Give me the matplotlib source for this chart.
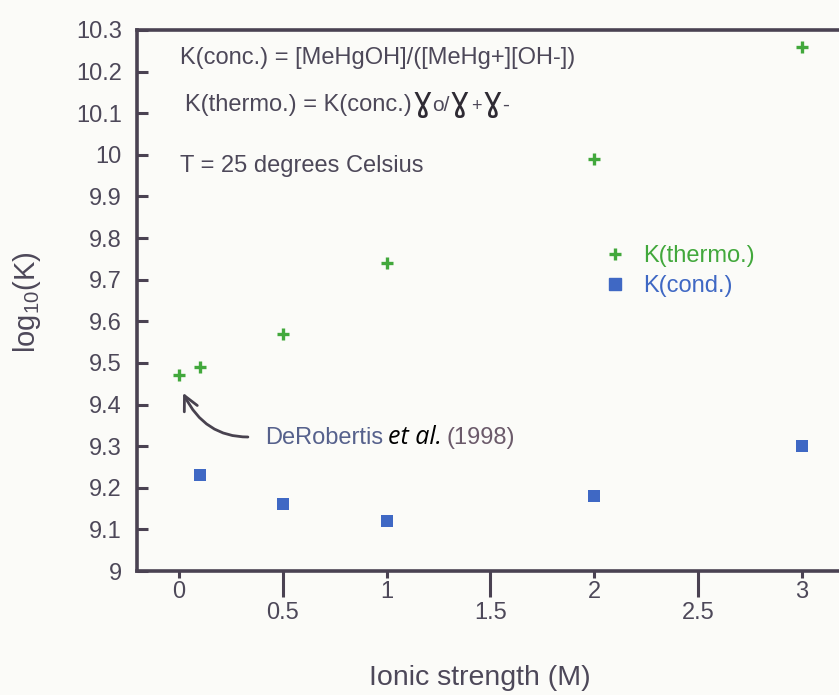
import matplotlib
matplotlib.use("Agg")
import matplotlib.pyplot as plt
from matplotlib.lines import Line2D

plt.rcParams['font.family'] = ['Liberation Sans', 'DejaVu Sans']
plt.rcParams['mathtext.fontset'] = 'custom'
plt.rcParams['mathtext.rm'] = 'Liberation Sans'
plt.rcParams['mathtext.it'] = 'Liberation Sans:italic'

# Data
thermo_x = [0.0, 0.1, 0.5, 1.0, 2.0, 3.0]
thermo_y = [9.47, 9.49, 9.57, 9.74, 9.99, 10.26]
cond_x = [0.1, 0.5, 1.0, 2.0, 3.0]
cond_y = [9.23, 9.16, 9.12, 9.18, 9.30]
yticks = [9.0, 9.1, 9.2, 9.3, 9.4, 9.5, 9.6, 9.7, 9.8, 9.9, 10.0, 10.1, 10.2, 10.3]
ytick_labels = ["9", "9.1", "9.2", "9.3", "9.4", "9.5", "9.6", "9.7", "9.8", "9.9", "10", "10.1", "10.2", "10.3"]
xticks_int = [0, 1, 2, 3]
xticks_half = [0.5, 1.5, 2.5]
series_labels = ["K(thermo.)", "K(cond.)"]

GREEN = '#42a83c'
BLUE = '#3f68c4'
TXT = '#4d4859'
SPINE = '#4a4252'
BG = '#fbfbf8'
FS = 17

fig = plt.figure(figsize=(8.39, 6.95), dpi=100, facecolor=BG)
W, H = 839, 695
left, right, top, bottom = 137, 839, 30, 571
ax = fig.add_axes([left / W, 1 - bottom / H, (right - left) / W, (bottom - top) / H])
ax.set_facecolor(BG)

ax.set_xlim(-0.202, 3.178)
ax.set_ylim(9.0, 10.3)

ax.scatter(thermo_x, thermo_y, marker='+', s=70, color=GREEN, linewidths=2.4, zorder=3)
ax.scatter(cond_x, cond_y, marker='s', s=70, color=BLUE, linewidths=0, zorder=3)

for s in ['left', 'bottom', 'top']:
    ax.spines[s].set_color(SPINE)
    ax.spines[s].set_linewidth(2.6)
ax.spines['right'].set_visible(False)

ax.set_yticks(yticks)
ax.set_yticklabels(ytick_labels)
ax.tick_params(axis='y', direction='in', length=8, width=2.2, color=SPINE,
               labelsize=FS, labelcolor=TXT, pad=11)
ax.set_xticks(xticks_int)
ax.set_xticklabels([str(v) for v in xticks_int])
ax.set_xticks(xticks_half, minor=True)
ax.set_xticklabels([str(v) for v in xticks_half], minor=True)
ax.tick_params(axis='x', which='major', direction='out', length=5, width=2.2, color=SPINE,
               labelsize=FS, labelcolor=TXT, pad=2.5)
ax.tick_params(axis='x', which='minor', direction='out', length=19, width=2.2, color=SPINE,
               labelsize=FS, labelcolor=TXT, pad=3.5)

fig.text(480 / W, 1 - 678 / H, "Ionic strength (M)", ha='center', va='center',
         fontsize=20.5, color=TXT)
fig.text(27 / W, 1 - 302 / H, r"log$_{10}$(K)", ha='center', va='center',
         rotation=90, fontsize=21, color=TXT)

tf = ax.transAxes
def fx(px):
    return (px - left) / (right - left)
def fy(py):
    return (bottom - py) / (bottom - top)

ax.text(fx(180), fy(58), "K(conc.) = [MeHgOH]/([MeHg+][OH-])", transform=tf,
        fontsize=FS, color=TXT, va='center', ha='left')
ax.text(fx(180), fy(166), "T = 25 degrees Celsius", transform=tf,
        fontsize=FS, color=TXT, va='center', ha='left')

fig.canvas.draw()
r = fig.canvas.get_renderer()

def chain(pieces, x0, yc):
    """Place text pieces one after another (display coords)."""
    x = x0
    for txt, kw, gap in pieces:
        t = fig.text(0, 0, txt, transform=None, va='baseline', ha='left', **kw)
        t.set_position((x, yc))
        fig.canvas.draw()
        x = t.get_window_extent(r).x1 + gap
    return x

GAM = dict(fontsize=24, color='#2e2a33', family='DejaVu Sans', fontweight='normal')
base2 = H - 111
chain([("K(thermo.) = K(conc.)", dict(fontsize=FS, color=TXT), 1),
       ("\u0263", GAM, 0),
       ("o/", dict(fontsize=FS - 2, color=TXT), 0),
       ("\u0263", GAM, 1),
       ("+", dict(fontsize=FS - 4, color=TXT), 1),
       ("\u0263", GAM, 0),
       ("-", dict(fontsize=FS - 2, color=TXT), 0)], 185, base2)

base3 = H - 444
chain([("DeRobertis", dict(fontsize=FS, color='#56618c'), 5),
       ("et al.", dict(fontsize=18, color='black', style='italic', fontweight='medium',
                       family='Open Sans'), 5),
       ("(1998)", dict(fontsize=FS, color='#6b5a6a'), 0)], 265, base3)

# Legend
handles = [Line2D([], [], marker='+', color=GREEN, linestyle='none', markersize=9, markeredgewidth=2.4),
           Line2D([], [], marker='s', color=BLUE, linestyle='none', markersize=8.5)]
leg = ax.legend(handles, series_labels, loc='upper left',
                bbox_to_anchor=(fx(582), fy(224)), frameon=False, fontsize=FS,
                handlelength=1.0, handletextpad=0.7, labelspacing=0.32, borderpad=0.4)
for t, c in zip(leg.get_texts(), [GREEN, BLUE]):
    t.set_color(c)

ax.annotate("", xy=(0.02, 9.428), xytext=(0.332, 9.322),
            arrowprops=dict(arrowstyle='->', color='#48424f', lw=2.0,
                            connectionstyle='angle3,angleA=0,angleB=116',
                            mutation_scale=26, shrinkA=0, shrinkB=0))

fig.savefig("out.png", dpi=100, facecolor=BG)
